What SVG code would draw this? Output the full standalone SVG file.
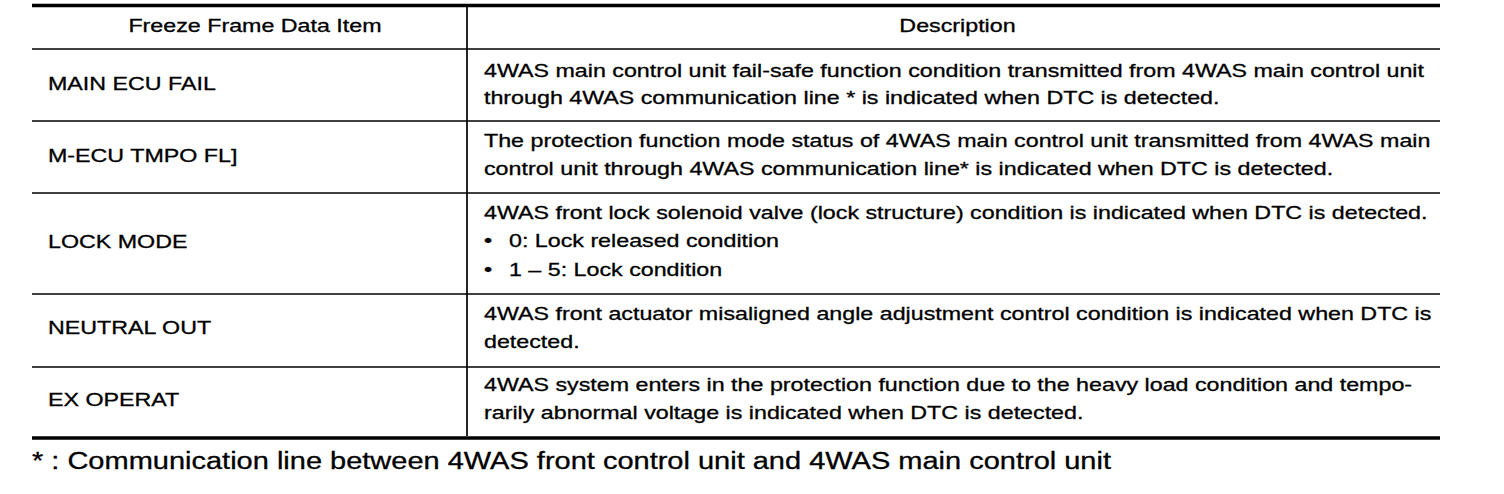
<svg xmlns="http://www.w3.org/2000/svg" width="1504" height="494" viewBox="0 0 1504 494">
<style>
.t{font-family:"Liberation Sans",Arial,Helvetica,sans-serif;font-size:18.6px;fill:#000;stroke:#000;stroke-width:0.3}
.f{font-size:23.2px}
.c{text-anchor:middle}
.thin{stroke:#000;stroke-width:1.7;fill:none}
.thick{stroke:#000;stroke-width:3.5;fill:none}
</style>
<rect width="1504" height="494" fill="#fff"/>
<g id="grid">
<line class="thick" x1="32" y1="5.5" x2="1440" y2="5.5"/>
<line class="thin" x1="32" y1="49" x2="1440" y2="49"/>
<line class="thin" x1="32" y1="121" x2="1440" y2="121"/>
<line class="thin" x1="32" y1="193" x2="1440" y2="193"/>
<line class="thin" x1="32" y1="294" x2="1440" y2="294"/>
<line class="thin" x1="32" y1="367" x2="1440" y2="367"/>
<line class="thick" x1="32" y1="438" x2="1440" y2="438"/>
<line class="thin" x1="467" y1="7" x2="467" y2="436"/>
</g>
<g transform="scale(1.25,1)" class="t">
<g id="header">
<text class="c" x="204" y="32">Freeze Frame Data Item</text>
<text class="c" x="766" y="32">Description</text>
</g>
<g id="row-main-ecu-fail">
<text x="38.4" y="90">MAIN ECU FAIL</text>
<text x="387.2" y="77">4WAS main control unit fail-safe function condition transmitted from 4WAS main control unit</text>
<text x="387.2" y="104.5">through 4WAS communication line * is indicated when DTC is detected.</text>
</g>
<g id="row-m-ecu-tmpo">
<text x="38.4" y="162">M-ECU TMPO FL]</text>
<text x="387.2" y="147">The protection function mode status of 4WAS main control unit transmitted from 4WAS main</text>
<text x="387.2" y="175">control unit through 4WAS communication line* is indicated when DTC is detected.</text>
</g>
<g id="row-lock-mode">
<text x="38.4" y="248">LOCK MODE</text>
<text x="387.2" y="219">4WAS front lock solenoid valve (lock structure) condition is indicated when DTC is detected.</text>
<text x="387.2" y="247.5">•</text>
<text x="407.2" y="247.5">0: Lock released condition</text>
<text x="387.2" y="276">•</text>
<text x="407.2" y="276">1 – 5: Lock condition</text>
</g>
<g id="row-neutral-out">
<text x="38.4" y="334">NEUTRAL OUT</text>
<text x="387.2" y="320">4WAS front actuator misaligned angle adjustment control condition is indicated when DTC is</text>
<text x="387.2" y="348">detected.</text>
</g>
<g id="row-ex-operat">
<text x="38.4" y="406">EX OPERAT</text>
<text x="387.2" y="391.5">4WAS system enters in the protection function due to the heavy load condition and tempo-</text>
<text x="387.2" y="419">rarily abnormal voltage is indicated when DTC is detected.</text>
</g>
<g id="footnote">
<text class="f" x="25.6" y="469">* : Communication line between 4WAS front control unit and 4WAS main control unit</text>
</g>
</g>
</svg>
